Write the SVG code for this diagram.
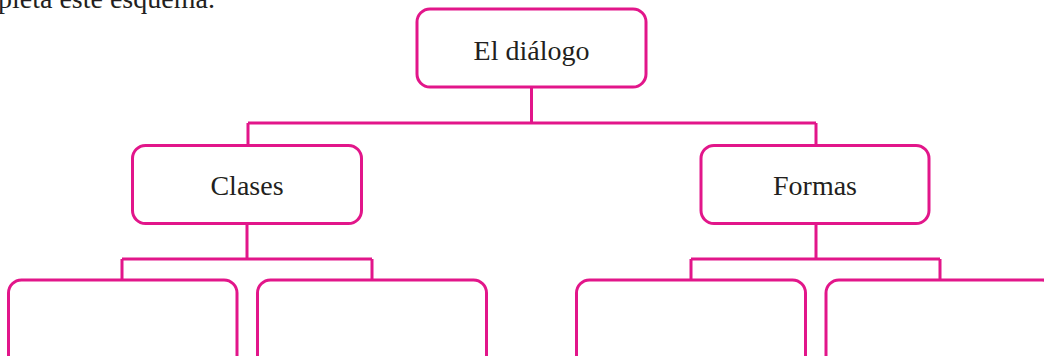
<svg xmlns="http://www.w3.org/2000/svg" width="1044" height="356" viewBox="0 0 1044 356">
<style>
.box{fill:#fff;stroke:#e2168a;stroke-width:3}
.ln{fill:none;stroke:#e2168a;stroke-width:3}
.lbl{font-family:"Liberation Serif",serif;font-size:28px;fill:#231f20;text-anchor:middle}
.hd{font-family:"Liberation Serif",serif;font-size:28px;fill:#231f20}
</style>
<rect width="1044" height="356" fill="#fff"/>
<text class="hd" x="-2" y="8">pleta este esquema.</text>
<g id="connectors">
<path class="ln" d="M531.5 87 V123 M248 123 H816 M248 123 V145 M816 123 V145"/>
<path class="ln" d="M247 223 V259 M122 259 H372 M122 259 V280 M372 259 V280"/>
<path class="ln" d="M816 223 V259 M691 259 H940 M691 259 V280 M940 259 V280"/>
</g>
<g id="node-dialogo"><rect class="box" x="417" y="9" width="229" height="78" rx="13"/><text class="lbl" x="531.5" y="60">El diálogo</text></g>
<g id="node-clases"><rect class="box" x="132.5" y="145.5" width="229" height="78" rx="13"/><text class="lbl" x="247" y="195">Clases</text></g>
<g id="node-formas"><rect class="box" x="701" y="145.5" width="228" height="78" rx="13"/><text class="lbl" x="815" y="195">Formas</text></g>
<g id="node-b1"><rect class="box" x="8.5" y="280" width="228.5" height="100" rx="13"/></g>
<g id="node-b2"><rect class="box" x="257.5" y="280" width="229" height="100" rx="13"/></g>
<g id="node-b3"><rect class="box" x="576.5" y="280" width="229" height="100" rx="13"/></g>
<g id="node-b4"><rect class="box" x="826" y="280" width="229" height="100" rx="13"/></g>
</svg>
